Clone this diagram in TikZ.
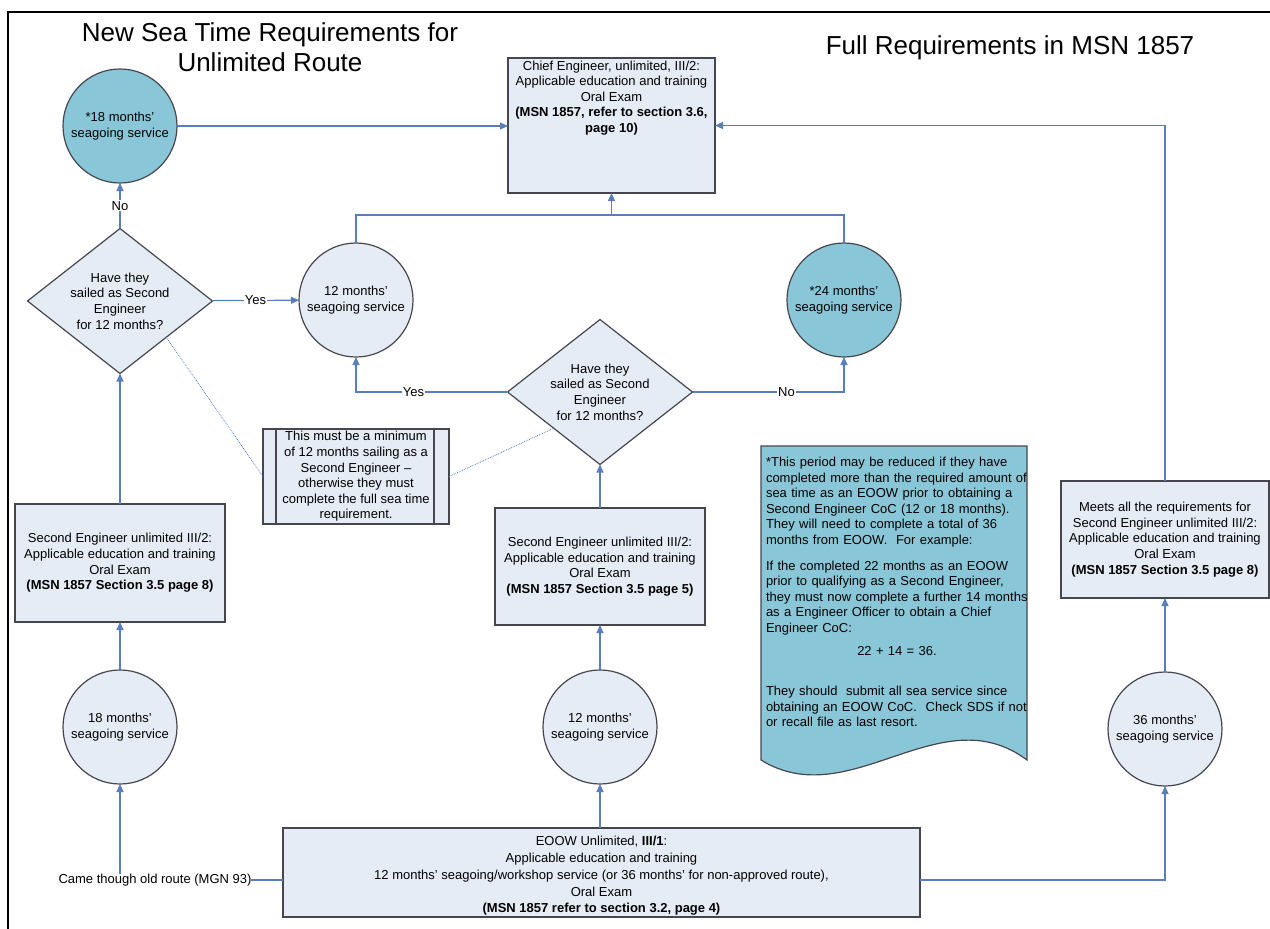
\documentclass[tikz,border=0pt]{standalone}
\usepackage{fontspec}
\setmainfont{Liberation Sans}
\definecolor{c89C7D8}{RGB}{137,199,216}
\definecolor{cE6ECF6}{RGB}{230,236,246}
\definecolor{c46464F}{RGB}{70,70,79}
\definecolor{c5A7DBE}{RGB}{90,125,190}
\usetikzlibrary{shapes.geometric,arrows.meta}
\tikzset{
  bodytext/.style={font=\fontsize{13}{15.6}\selectfont},
  headtext/.style={font=\fontsize{26}{30}\selectfont, align=center},
  stepbox/.style={bodytext, draw=c46464F, fill=cE6ECF6, line width=1.2pt, align=center},
  svcball/.style={bodytext, circle, draw=c46464F, fill=cE6ECF6, line width=1.2pt,
    minimum size=114pt, align=center},
  tealball/.style={svcball, fill=c89C7D8},
  question/.style={bodytext, diamond, draw=c46464F, fill=cE6ECF6, line width=1.2pt,
    aspect=1.28, minimum width=185pt, minimum height=145pt, align=center},
  link/.style={draw=c5A7DBE, line width=1.2pt},
  flow/.style={link, -{Triangle[length=8pt,width=7pt]}},
  hint/.style={draw=c5A7DBE, line width=0.8pt, densely dotted},
  answer/.style={bodytext, fill=white, inner sep=1pt},
}

\begin{document}
\begin{tikzpicture}[y=1pt,x=1pt,yscale=-1, inner sep=0pt, outer sep=0pt]
  \useasboundingbox (0,0) rectangle (1270,929);
  \draw[line width=1.3pt] (8,940) -- (8,12) -- (1280,12);

  % titles
  \node[headtext] (title) at (270,47) {New Sea Time Requirements for\\Unlimited Route};
  \node[headtext] (fullreq) at (1010,48) {Full Requirements in MSN 1857};

  % top: chief engineer
  \node[stepbox, minimum width=207pt, minimum height=135pt] (chief) at (611.5,125.5) {};
  \node[bodytext, align=center] (chieftxt) at (611.5,98) {Chief Engineer, unlimited, III/2:\\
    Applicable education and training\\Oral Exam\\
    \textbf{(MSN 1857, refer to section 3.6,}\\\textbf{page 10)}};

  % upper row
  \node[tealball] (sea18) at (120,126) {*18 months'\\seagoing service};
  \node[question] (q1) at (120,301) {Have they\\sailed as Second\\Engineer\\for 12 months?};
  \node[svcball] (sea12a) at (356,300) {12 months'\\seagoing service};
  \node[tealball] (sea24) at (844,300) {*24 months'\\seagoing service};
  \node[question] (q2) at (600,392) {Have they\\sailed as Second\\Engineer\\for 12 months?};

  % note on the two questions
  \node[stepbox, minimum width=186pt, minimum height=95pt] (note) at (356,476.5)
    {This must be a minimum\\of 12 months sailing as a\\Second Engineer –\\otherwise they must\\
     complete the full sea time\\requirement.};
  \draw[line width=1.2pt, c46464F] ([xshift=13pt]note.north west) -- ([xshift=13pt]note.south west);
  \draw[line width=1.2pt, c46464F] ([xshift=-15pt]note.north east) -- ([xshift=-15pt]note.south east);

  % second engineer boxes
  \node[stepbox, minimum width=210pt, minimum height=118pt] (se2a) at (120,563)
    {Second Engineer unlimited III/2:\\Applicable education and training\\Oral Exam\\
     \textbf{(MSN 1857 Section 3.5 page 8)}};
  \node[stepbox, minimum width=210pt, minimum height=117pt] (se2b) at (600,566.5)
    {Second Engineer unlimited III/2:\\Applicable education and training\\Oral Exam\\
     \textbf{(MSN 1857 Section 3.5 page 5)}};
  \node[stepbox, minimum width=208pt, minimum height=117pt] (se2c) at (1165,539.5)
    {Meets all the requirements for\\Second Engineer unlimited III/2:\\
     Applicable education and training\\Oral Exam\\\textbf{(MSN 1857 Section 3.5 page 8)}};

  % lower row
  \node[svcball] (sea18b) at (120,727) {18 months'\\seagoing service};
  \node[svcball] (sea12b) at (600,727) {12 months'\\seagoing service};
  \node[svcball] (sea36) at (1165,729) {36 months'\\seagoing service};

  % bottom: EOOW
  \node[stepbox, minimum width=637pt, minimum height=89pt] (eoow) at (601.5,872.5) {};
  \node[bodytext, align=center] (eoowtxt) at (601.5,875.5)
    {EOOW Unlimited, \textbf{III/1}:\\[1.5pt]Applicable education and training\\[1.5pt]
     12 months' seagoing/workshop service (or 36 months' for non-approved route),\\[1.5pt]
     Oral Exam\\\textbf{(MSN 1857 refer to section 3.2, page 4)}};
  \node[bodytext] (oldroute) at (155,880) {Came though old route (MGN 93)};

  % footnote document
  \path[draw=c46464F, fill=c89C7D8, line width=1.2pt] (761,446) -- (1027,446) --
    (1027,760) .. controls (940,695) and (850,815) .. (761,760) -- cycle;
  \node[bodytext, anchor=north west, text width=262pt, align=left] (footnote) at (766,457)
    {*This period may be reduced if they have\\completed more than the required amount of\\
     sea time as an EOOW prior to obtaining a\\Second Engineer CoC (12 or 18 months).\\
     They will need to complete a total of 36\\months from EOOW.\ \ For example:\\[10pt]
     If the completed 22 months as an EOOW\\prior to qualifying as a Second Engineer,\\
     they must now complete a further 14 months\\as a Engineer Officer to obtain a Chief\\
     Engineer CoC:\\[7pt]
     \makebox[\linewidth]{22 + 14 = 36.}\\[25pt]
     They should\ \ submit all sea service since\\obtaining an EOOW CoC.\ \ Check SDS if not\\
     or recall file as last resort.};

  % connectors
  \draw[flow] (sea18) -- (sea18 -| chief.west);
  \draw[flow] (q1) -- node[answer]{No} (sea18);
  \draw[flow] (q1) -- node[answer]{Yes} (sea12a);
  \coordinate (merge) at (611.5,215);
  \draw[link] (sea12a) |- (merge) -| (sea24);
  \draw[flow] (merge) -- (chief);
  \draw[flow] (q2) -| node[answer, pos=0.31]{Yes} (sea12a);
  \draw[flow] (q2) -| node[answer, pos=0.31]{No} (sea24);
  \draw[flow] (se2a) -- (q1);
  \draw[flow] (se2b) -- (q2);
  \draw[flow] (sea18b) -- (se2a);
  \draw[flow] (sea12b) -- (se2b);
  \draw[flow] (sea36) -- (se2c);
  \draw[flow] (se2c) |- (chief);
  \draw[flow] (oldroute.north -| sea18b) -- (sea18b);
  \draw[flow] (eoow.north -| sea12b) -- (sea12b);
  \draw[link] (oldroute) -- (oldroute -| eoow.west);
  \draw[flow] (oldroute -| eoow.east) -| (sea36);
  \draw[hint] (q1.south east) -- (note.west);
  \draw[hint] (note.east) -- (q2.south west);
\end{tikzpicture}
\end{document}
